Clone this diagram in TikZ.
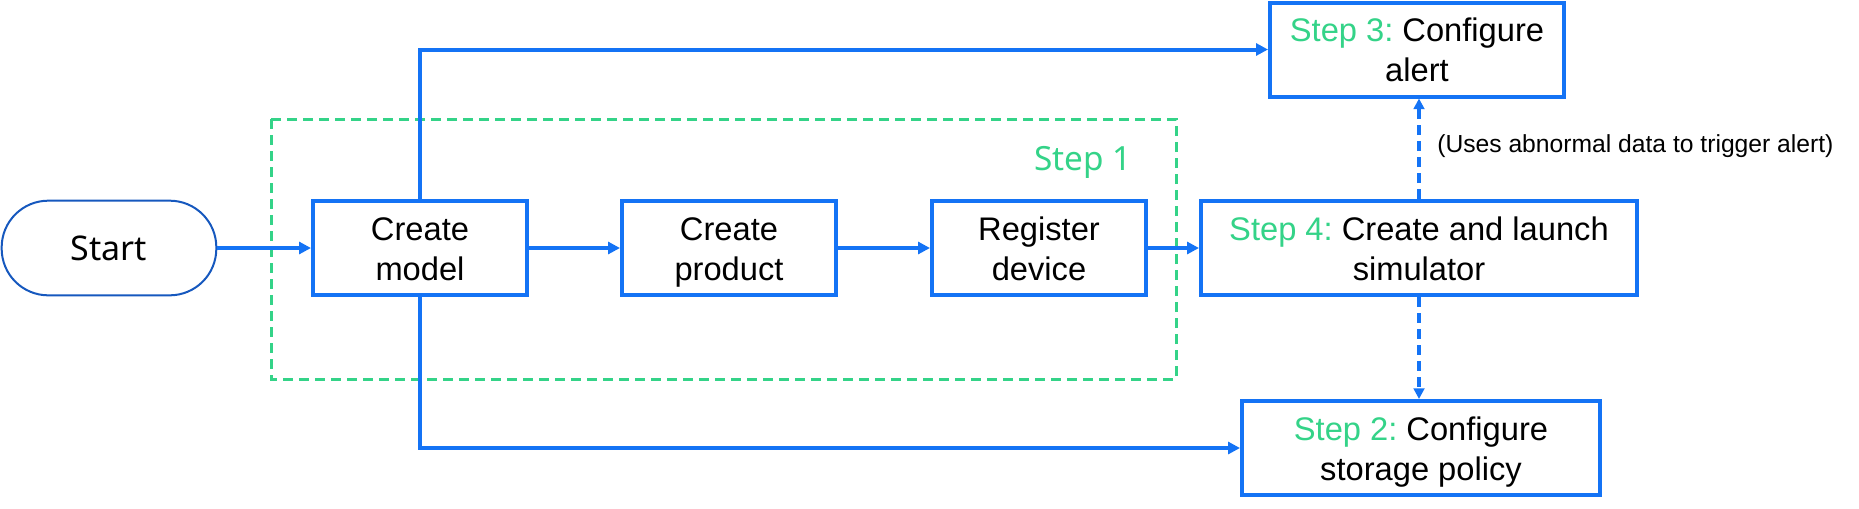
\documentclass[tikz,border=0pt]{standalone}
\usepackage{fontspec}
\setmainfont{Liberation Sans}
\newfontfamily\startfont{Noto Sans}
\usetikzlibrary{arrows.meta}
\definecolor{flowblue}{RGB}{20,115,245}
\definecolor{startblue}{RGB}{22,88,190}
\definecolor{stepgreen}{RGB}{52,211,136}
\tikzset{
  stepbox/.style={draw=flowblue, line width=3pt, fill=white, align=center, inner sep=0pt,
    font=\fontsize{24.5}{30}\selectfont\frenchspacing,
    text height=55pt, text depth=7pt},
  flow/.style={draw=flowblue, line width=3pt, -{Triangle[length=9pt,width=9pt]}},
  dashflow/.style={draw=flowblue, line width=2.5pt, dash pattern=on 7.5pt off 4.5pt, -{Triangle[length=8pt,width=8pt]}},
}
\newcommand{\stepno}[1]{\textcolor{stepgreen}{#1}}
\begin{document}
\begin{tikzpicture}[x=0.75pt,y=0.75pt,yscale=-1,xscale=1]
    \useasboundingbox (0,0) rectangle (1859,508);

    %Shape: Dashed frame [id:step1frame]
    \draw [color=stepgreen, line width=2.25pt, dash pattern=on 7.5pt off 4.5pt] (271,119) rectangle (1176,379);
    % Text Node
    \node (steponelabel) at (1083,162) {\startfont\fontsize{25}{30}\selectfont\color{stepgreen}Step 1};

    %Shape: Rounded rectangle [id:start]
    \node [draw=startblue, line width=1.5pt, rounded corners=35pt, minimum width=161pt, minimum height=71pt, inner sep=0pt]
      (start) at (109,248) {\startfont\fontsize{25.5}{30}\selectfont Start};
    %Shape: Rectangles
    \node [stepbox, minimum width=160.5pt, minimum height=70.5pt] (model) at (420,248) {Create\\model};
    \node [stepbox, minimum width=160.5pt, minimum height=70.5pt] (product) at (729,248) {Create\\product};
    \node [stepbox, minimum width=160.5pt, minimum height=70.5pt] (device) at (1039,248) {Register\\device};
    \node [stepbox, minimum width=327pt, minimum height=70.5pt] (simulator) at (1419,248) {\stepno{Step 4:} Create and launch\\simulator};
    \node [stepbox, minimum width=220.5pt, minimum height=70.5pt] (alert) at (1417,49.5) {\stepno{Step 3:} Configure\\alert};
    \node [stepbox, minimum width=268.5pt, minimum height=70.5pt] (storage) at (1421,448) {\stepno{Step 2:} Configure\\storage policy};

    %Straight Lines
    \draw [flow] (start) -- (model);
    \draw [flow] (model) -- (product);
    \draw [flow] (product) -- (device);
    \draw [flow] (device) -- (simulator);
    %Elbow Lines
    \draw [flow] (model.north) |- (alert.west);
    \draw [flow] (model.south) |- (storage.west);
    %Dashed Lines
    \draw [dashflow] (simulator.north) -- (simulator.north |- alert.south);
    \draw [dashflow] (simulator.south) -- (simulator.south |- storage.north);

    % Text Node
    \node [anchor=west, inner sep=0pt, font=\fontsize{18.5}{22}\selectfont] (alertnote) at (1437,146) {(Uses abnormal data to trigger alert)};

\end{tikzpicture}
\end{document}
